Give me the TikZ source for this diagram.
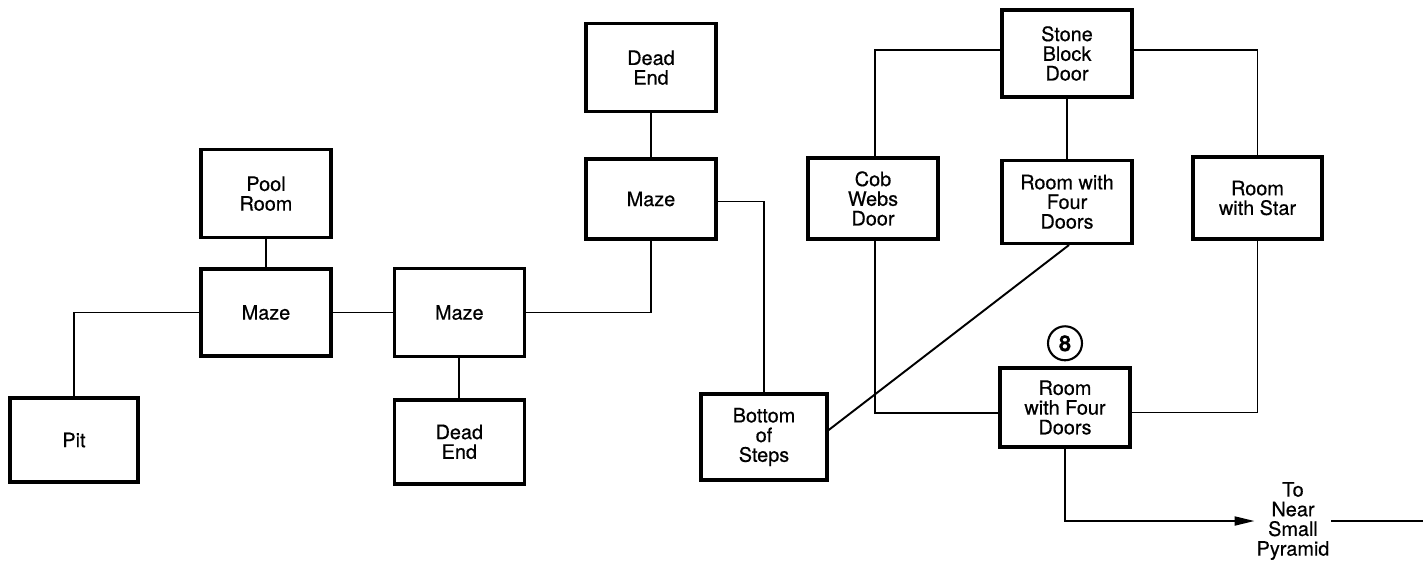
\documentclass[tikz,border=0pt]{standalone}
\usepackage{fontspec}
\setmainfont{TeX Gyre Heros}[FakeBold=0.5]
\usetikzlibrary{arrows.meta, positioning}

\begin{document}
\begin{tikzpicture}[
  font=\fontsize{11.3}{11.2}\selectfont,
  room/.style={rectangle, draw, line width=1.9pt, align=center, inner sep=0pt,
    minimum width=2.6cm, minimum height=1.7cm},
  link/.style={line width=1.1pt},
  arr/.style={-{Triangle[length=4mm, width=1.8mm]}, line width=1.1pt}
]
\useasboundingbox (0,0) rectangle (28.46,-11.22);

\node[room, minimum height=1.74cm] (mazeA) at (5.32,-6.25) {Maze};
\node[room, minimum height=1.76cm, above=0.56cm of mazeA] (pool) {Pool\\Room};
\node[room, minimum width=2.56cm, minimum height=1.68cm] (pit) at (1.48,-8.8) {Pit};
\node[room, minimum height=1.76cm, right=1.2cm of mazeA] (mazeB) {Maze};
\node[room, minimum height=1.68cm, below=0.8cm of mazeB] (deadB) {Dead\\End};

\node[room, minimum height=1.6cm] (mazeC) at (13.02,-3.98) {Maze};
\node[room, minimum height=1.76cm, above=0.88cm of mazeC] (deadA) {Dead\\End};
\node[room, minimum width=2.52cm, minimum height=1.72cm] (steps) at (15.28,-8.74) {Bottom\\of\\Steps};
\node[room, minimum height=1.62cm] (cobwebs) at (17.46,-3.97) {Cob\\Webs\\Door};

\node[room, minimum height=1.74cm] (stone) at (21.34,-1.07) {Stone\\Block\\Door};
\node[room, minimum height=1.66cm, below=1.2cm of stone] (roomA) {Room with\\Four\\Doors};
\node[room, minimum width=2.58cm, minimum height=1.64cm] (star) at (25.15,-3.96) {Room\\with Star};
\node[room, minimum height=1.58cm] (roomB) at (21.3,-8.15) {Room\\with Four\\Doors};
\node[circle, draw, line width=1.2pt, minimum size=0.68cm, inner sep=0pt,
  font=\fontsize{12.5}{12.5}\selectfont\bfseries, above=0.1cm of roomB] (mark) {8};

\node[inner sep=1pt, align=center] (pyramid) at (25.86,-10.42) {To\\Near\\Small\\Pyramid};
\coordinate (edge) at (28.46,-10.42);

\draw[link] (pool) -- (mazeA);
\draw[link] (mazeA.west) -| (pit.north);
\draw[link] (mazeA) -- (mazeB);
\draw[link] (mazeB) -- (deadB);
\draw[link] (mazeB.east) -| (mazeC.south);
\draw[link] (deadA) -- (mazeC);
\draw[link] ([yshift=-0.5mm]mazeC.east) -| (steps.north);
\draw[link] ([xshift=0.4mm]cobwebs.north) |- ([yshift=0.7mm]stone.west);
\draw[link] ([yshift=0.7mm]stone.east) -| (star.north);
\draw[link] (stone) -- (roomA);
\draw[link] ([yshift=1.4mm]steps.east) -- ([xshift=0.4mm]roomA.south);
\draw[link] ([xshift=0.4mm]cobwebs.south) |- ([yshift=-1.1mm]roomB.west);
\draw[link] (star.south) |- ([yshift=-1mm]roomB.east);
\draw[arr] (roomB.south) |- (pyramid.west);
\draw[link] (pyramid.east) -- (edge);

\end{tikzpicture}
\end{document}
